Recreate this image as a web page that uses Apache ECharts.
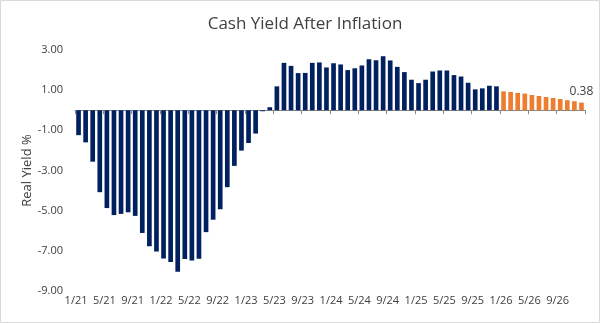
<!DOCTYPE html>
<html>
<head>
<meta charset="utf-8">
<script src="https://cdn.jsdelivr.net/npm/echarts@6/dist/echarts.min.js"></script>
<style>
  html, body { margin: 0; padding: 0; background: #fff; }
  #chart { width: 600px; height: 323px; }
</style>
</head>
<body>
<div id="chart"></div>
<script>
// Month labels, Jan 2021 through Dec 2026
const years = ['21', '22', '23', '24', '25', '26'];
const months = [1, 2, 3, 4, 5, 6, 7, 8, 9, 10, 11, 12];
const categories = [];
years.forEach(y => months.forEach(m => categories.push(m + '/' + y)));

// Realised real yield (%), Jan 2021 - Dec 2025
const actual = [
  -1.24, -1.60, -2.56, -4.08, -4.87, -5.22, -5.16, -5.08, -5.26, -6.11,
  -6.77, -7.03, -7.38, -7.56, -8.04, -7.41, -7.48, -7.39, -6.07, -5.45,
  -4.93, -3.83, -2.77, -2.01, -1.63, -1.16, -0.05, 0.15, 1.19, 2.36,
  2.21, 1.85, 1.86, 2.36, 2.38, 2.13, 2.34, 2.28, 2.00, 2.09,
  2.23, 2.54, 2.49, 2.69, 2.48, 2.16, 1.90, 1.52, 1.35, 1.52,
  1.93, 1.98, 1.98, 1.75, 1.68, 1.37, 1.04, 1.09, 1.22, 1.19
];

// Projected real yield (%), Jan 2026 - Dec 2026
const forecast = [0.94, 0.91, 0.86, 0.83, 0.76, 0.71, 0.66, 0.61, 0.56, 0.50, 0.45, 0.38];

const actualData = categories.map((c, i) => i < actual.length ? actual[i] : '-');
const forecastData = categories.map((c, i) => i >= actual.length ? forecast[i - actual.length] : '-');
const lastIdx = categories.length - 1;

const FONT = '"Open Sans", "Noto Sans", sans-serif';
const TEXT = '#404040';

const chart = echarts.init(document.getElementById('chart'), null, { renderer: 'canvas' });
chart.setOption({
  animation: false,
  backgroundColor: '#fff',
  textStyle: { fontFamily: FONT },
  title: {
    text: 'Cash Yield After Inflation',
    left: 300,
    top: 11,
    textAlign: 'center',
    textStyle: { fontFamily: FONT, fontSize: 17, fontWeight: 'normal', color: TEXT }
  },
  graphic: [{
    type: 'rect',
    silent: true,
    shape: { x: 0.5, y: 0.5, width: 599, height: 322 },
    style: { fill: 'none', stroke: '#d9d9d9', lineWidth: 1 },
    z: 100
  }],
  grid: { left: 75, right: 15, top: 50, bottom: 32 },
  xAxis: [
    {
      // axis line and ticks drawn at zero
      type: 'category',
      data: categories,
      boundaryGap: true,
      position: 'bottom',
      axisLine: { onZero: true, lineStyle: { color: '#868686', width: 1 } },
      axisTick: { show: true, interval: 3, length: 4, lineStyle: { color: '#868686' } },
      axisLabel: { show: false },
      splitLine: { show: false }
    },
    {
      // month labels along the bottom
      type: 'category',
      data: categories,
      boundaryGap: true,
      position: 'bottom',
      axisLine: { show: false, onZero: false },
      axisTick: { show: false },
      axisLabel: {
        interval: 3,
        margin: 4,
        fontSize: 11,
        color: TEXT,
        fontFamily: FONT,
        padding: [0, 5, 0, 0]
      },
      splitLine: { show: false }
    }
  ],
  yAxis: {
    type: 'value',
    min: -9,
    max: 3,
    interval: 1,
    name: 'Real Yield %',
    nameLocation: 'middle',
    nameGap: 41,
    nameMoveOverlap: false,
    nameTextStyle: { fontSize: 13, color: TEXT, fontFamily: FONT },
    axisLine: { show: false },
    axisTick: { show: false },
    splitLine: { show: false },
    axisLabel: {
      margin: 12,
      fontSize: 11,
      color: TEXT,
      fontFamily: FONT,
      formatter: v => (Math.round(v) % 2 !== 0 ? v.toFixed(2) : '')
    }
  },
  series: [
    {
      name: 'Actual',
      type: 'bar',
      xAxisIndex: 0,
      data: actualData,
      barCategoryGap: '34%',
      barGap: '-100%',
      itemStyle: { color: '#002060' }
    },
    {
      name: 'Forecast',
      type: 'bar',
      xAxisIndex: 0,
      data: forecastData.map((v, i) => i === lastIdx
        ? { value: v, label: { show: true, position: 'top', formatter: p => p.value.toFixed(2), fontSize: 12, color: TEXT, fontFamily: FONT, distance: 5 } }
        : v),
      barCategoryGap: '34%',
      barGap: '-100%',
      itemStyle: { color: '#ED7D31' }
    }
  ]
});
</script>
</body>
</html>
